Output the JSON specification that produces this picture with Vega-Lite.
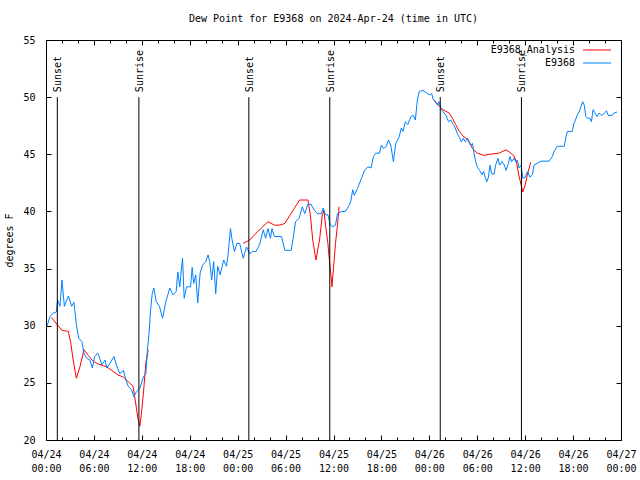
{
  "$schema": "https://vega.github.io/schema/vega-lite/v6.json",
  "width": 575,
  "height": 400,
  "autosize": {"type": "none"},
  "padding": {"left": 46, "top": 40, "right": 19, "bottom": 40},
  "background": "white",
  "title": {"text": "Dew Point for E9368 on 2024-Apr-24 (time in UTC)", "font": "DejaVu Sans Mono", "fontSize": 10, "fontWeight": "normal", "offset": 11, "anchor": "middle", "frame": "group", "color": "black"},
  "config": {
    "view": {"stroke": "black", "strokeWidth": 1},
    "font": "DejaVu Sans Mono",
    "axis": {"grid": false, "domain": false, "tickColor": "black", "labelColor": "black", "labelFont": "DejaVu Sans Mono", "labelFontSize": 10, "titleFont": "DejaVu Sans Mono", "titleFontSize": 10, "titleFontWeight": "normal", "titleColor": "black"}
  },
  "datasets": {
    "station": [
      {"t": "2024-04-24T00:09:00Z", "v": 30.0}, {"t": "2024-04-24T00:30:00Z", "v": 30.8}, {"t": "2024-04-24T00:54:00Z", "v": 31.1}, {"t": "2024-04-24T01:18:00Z", "v": 31.2},
      {"t": "2024-04-24T01:27:00Z", "v": 32.25}, {"t": "2024-04-24T01:45:00Z", "v": 31.7}, {"t": "2024-04-24T02:00:00Z", "v": 34.0}, {"t": "2024-04-24T02:18:00Z", "v": 31.7},
      {"t": "2024-04-24T02:48:00Z", "v": 32.6}, {"t": "2024-04-24T03:12:00Z", "v": 31.7}, {"t": "2024-04-24T03:30:00Z", "v": 32.05}, {"t": "2024-04-24T03:48:00Z", "v": 30.1},
      {"t": "2024-04-24T04:06:00Z", "v": 28.9}, {"t": "2024-04-24T04:30:00Z", "v": 28.6}, {"t": "2024-04-24T04:45:00Z", "v": 27.6}, {"t": "2024-04-24T05:06:00Z", "v": 27.15},
      {"t": "2024-04-24T05:30:00Z", "v": 27.0}, {"t": "2024-04-24T05:48:00Z", "v": 26.3}, {"t": "2024-04-24T06:06:00Z", "v": 27.3}, {"t": "2024-04-24T06:30:00Z", "v": 27.6},
      {"t": "2024-04-24T07:00:00Z", "v": 26.6}, {"t": "2024-04-24T07:24:00Z", "v": 27.0}, {"t": "2024-04-24T07:36:00Z", "v": 26.3}, {"t": "2024-04-24T08:00:00Z", "v": 26.7},
      {"t": "2024-04-24T08:30:00Z", "v": 27.3}, {"t": "2024-04-24T08:48:00Z", "v": 26.6}, {"t": "2024-04-24T09:15:00Z", "v": 25.8}, {"t": "2024-04-24T09:42:00Z", "v": 26.1},
      {"t": "2024-04-24T10:00:00Z", "v": 25.25}, {"t": "2024-04-24T10:18:00Z", "v": 24.7}, {"t": "2024-04-24T10:42:00Z", "v": 24.4}, {"t": "2024-04-24T11:00:00Z", "v": 23.8},
      {"t": "2024-04-24T11:18:00Z", "v": 24.2}, {"t": "2024-04-24T11:45:00Z", "v": 24.5}, {"t": "2024-04-24T12:12:00Z", "v": 25.55}, {"t": "2024-04-24T12:30:00Z", "v": 25.8},
      {"t": "2024-04-24T12:42:00Z", "v": 27.9}, {"t": "2024-04-24T12:54:00Z", "v": 29.3}, {"t": "2024-04-24T13:06:00Z", "v": 31.4}, {"t": "2024-04-24T13:18:00Z", "v": 32.8},
      {"t": "2024-04-24T13:30:00Z", "v": 33.3}, {"t": "2024-04-24T13:48:00Z", "v": 32.1}, {"t": "2024-04-24T14:12:00Z", "v": 31.7}, {"t": "2024-04-24T14:36:00Z", "v": 30.65},
      {"t": "2024-04-24T15:00:00Z", "v": 32.1}, {"t": "2024-04-24T15:30:00Z", "v": 33.3}, {"t": "2024-04-24T15:54:00Z", "v": 32.7}, {"t": "2024-04-24T16:18:00Z", "v": 33.0},
      {"t": "2024-04-24T16:30:00Z", "v": 34.7}, {"t": "2024-04-24T16:45:00Z", "v": 33.4}, {"t": "2024-04-24T17:00:00Z", "v": 35.3}, {"t": "2024-04-24T17:06:00Z", "v": 35.9},
      {"t": "2024-04-24T17:18:00Z", "v": 32.4}, {"t": "2024-04-24T17:36:00Z", "v": 33.4}, {"t": "2024-04-24T18:06:00Z", "v": 33.4}, {"t": "2024-04-24T18:18:00Z", "v": 35.1},
      {"t": "2024-04-24T18:30:00Z", "v": 33.7}, {"t": "2024-04-24T18:45:00Z", "v": 34.45}, {"t": "2024-04-24T19:00:00Z", "v": 32.0}, {"t": "2024-04-24T19:18:00Z", "v": 34.6},
      {"t": "2024-04-24T19:36:00Z", "v": 35.3}, {"t": "2024-04-24T20:00:00Z", "v": 35.6}, {"t": "2024-04-24T20:18:00Z", "v": 36.2}, {"t": "2024-04-24T20:30:00Z", "v": 35.6},
      {"t": "2024-04-24T20:45:00Z", "v": 34.0}, {"t": "2024-04-24T21:00:00Z", "v": 35.6}, {"t": "2024-04-24T21:15:00Z", "v": 32.8}, {"t": "2024-04-24T21:30:00Z", "v": 35.2},
      {"t": "2024-04-24T21:48:00Z", "v": 34.45}, {"t": "2024-04-24T22:15:00Z", "v": 35.75}, {"t": "2024-04-24T22:36:00Z", "v": 35.2}, {"t": "2024-04-24T22:48:00Z", "v": 36.2},
      {"t": "2024-04-24T23:06:00Z", "v": 38.5}, {"t": "2024-04-24T23:18:00Z", "v": 37.5}, {"t": "2024-04-24T23:36:00Z", "v": 36.5}, {"t": "2024-04-24T23:54:00Z", "v": 37.2},
      {"t": "2024-04-25T00:15:00Z", "v": 37.2}, {"t": "2024-04-25T00:42:00Z", "v": 35.9}, {"t": "2024-04-25T01:06:00Z", "v": 36.9}, {"t": "2024-04-25T01:30:00Z", "v": 36.3},
      {"t": "2024-04-25T01:54:00Z", "v": 36.5}, {"t": "2024-04-25T02:18:00Z", "v": 36.5}, {"t": "2024-04-25T02:45:00Z", "v": 37.1}, {"t": "2024-04-25T03:12:00Z", "v": 38.4},
      {"t": "2024-04-25T03:30:00Z", "v": 37.65}, {"t": "2024-04-25T03:48:00Z", "v": 38.5}, {"t": "2024-04-25T04:06:00Z", "v": 37.65}, {"t": "2024-04-25T04:18:00Z", "v": 38.5},
      {"t": "2024-04-25T04:36:00Z", "v": 37.8}, {"t": "2024-04-25T05:30:00Z", "v": 37.8}, {"t": "2024-04-25T05:54:00Z", "v": 36.6}, {"t": "2024-04-25T06:42:00Z", "v": 36.6},
      {"t": "2024-04-25T07:00:00Z", "v": 37.9}, {"t": "2024-04-25T07:15:00Z", "v": 39.1}, {"t": "2024-04-25T07:42:00Z", "v": 39.4}, {"t": "2024-04-25T08:06:00Z", "v": 40.4},
      {"t": "2024-04-25T08:24:00Z", "v": 39.8}, {"t": "2024-04-25T08:48:00Z", "v": 40.65}, {"t": "2024-04-25T09:12:00Z", "v": 40.6}, {"t": "2024-04-25T09:36:00Z", "v": 40.1},
      {"t": "2024-04-25T10:00:00Z", "v": 39.8}, {"t": "2024-04-25T10:30:00Z", "v": 39.8}, {"t": "2024-04-25T10:42:00Z", "v": 40.3}, {"t": "2024-04-25T11:00:00Z", "v": 39.7},
      {"t": "2024-04-25T11:18:00Z", "v": 39.7}, {"t": "2024-04-25T11:36:00Z", "v": 38.8}, {"t": "2024-04-25T11:54:00Z", "v": 38.65}, {"t": "2024-04-25T12:15:00Z", "v": 38.8},
      {"t": "2024-04-25T12:30:00Z", "v": 39.8}, {"t": "2024-04-25T13:00:00Z", "v": 40.0}, {"t": "2024-04-25T13:30:00Z", "v": 40.0}, {"t": "2024-04-25T14:00:00Z", "v": 40.6},
      {"t": "2024-04-25T14:12:00Z", "v": 41.0}, {"t": "2024-04-25T14:24:00Z", "v": 41.9}, {"t": "2024-04-25T14:36:00Z", "v": 41.4}, {"t": "2024-04-25T15:00:00Z", "v": 42.0},
      {"t": "2024-04-25T15:30:00Z", "v": 42.9}, {"t": "2024-04-25T15:54:00Z", "v": 43.6}, {"t": "2024-04-25T16:18:00Z", "v": 43.9}, {"t": "2024-04-25T16:42:00Z", "v": 43.8},
      {"t": "2024-04-25T17:00:00Z", "v": 44.8}, {"t": "2024-04-25T17:18:00Z", "v": 45.1}, {"t": "2024-04-25T17:45:00Z", "v": 45.1}, {"t": "2024-04-25T18:00:00Z", "v": 45.8},
      {"t": "2024-04-25T18:15:00Z", "v": 45.5}, {"t": "2024-04-25T18:36:00Z", "v": 45.7}, {"t": "2024-04-25T18:54:00Z", "v": 46.25}, {"t": "2024-04-25T19:12:00Z", "v": 45.7},
      {"t": "2024-04-25T19:30:00Z", "v": 44.35}, {"t": "2024-04-25T19:48:00Z", "v": 45.95}, {"t": "2024-04-25T20:12:00Z", "v": 46.5}, {"t": "2024-04-25T20:30:00Z", "v": 47.3},
      {"t": "2024-04-25T20:42:00Z", "v": 47.0}, {"t": "2024-04-25T21:00:00Z", "v": 47.85}, {"t": "2024-04-25T21:18:00Z", "v": 47.6}, {"t": "2024-04-25T21:42:00Z", "v": 48.3},
      {"t": "2024-04-25T22:00:00Z", "v": 48.4}, {"t": "2024-04-25T22:15:00Z", "v": 48.0}, {"t": "2024-04-25T22:30:00Z", "v": 49.75}, {"t": "2024-04-25T22:45:00Z", "v": 50.5},
      {"t": "2024-04-25T23:12:00Z", "v": 50.6}, {"t": "2024-04-25T23:36:00Z", "v": 50.4}, {"t": "2024-04-26T00:00:00Z", "v": 50.2}, {"t": "2024-04-26T00:18:00Z", "v": 50.3},
      {"t": "2024-04-26T00:30:00Z", "v": 49.75}, {"t": "2024-04-26T00:45:00Z", "v": 49.6}, {"t": "2024-04-26T01:00:00Z", "v": 49.3}, {"t": "2024-04-26T01:12:00Z", "v": 49.6},
      {"t": "2024-04-26T01:30:00Z", "v": 48.9}, {"t": "2024-04-26T01:45:00Z", "v": 48.7}, {"t": "2024-04-26T02:06:00Z", "v": 48.4}, {"t": "2024-04-26T02:24:00Z", "v": 47.85},
      {"t": "2024-04-26T02:42:00Z", "v": 48.0}, {"t": "2024-04-26T03:00:00Z", "v": 47.6}, {"t": "2024-04-26T03:15:00Z", "v": 47.3}, {"t": "2024-04-26T03:30:00Z", "v": 46.8},
      {"t": "2024-04-26T03:45:00Z", "v": 46.5}, {"t": "2024-04-26T04:00:00Z", "v": 46.1}, {"t": "2024-04-26T04:15:00Z", "v": 46.4}, {"t": "2024-04-26T04:30:00Z", "v": 46.1},
      {"t": "2024-04-26T04:48:00Z", "v": 46.4}, {"t": "2024-04-26T05:00:00Z", "v": 46.1}, {"t": "2024-04-26T05:12:00Z", "v": 45.8}, {"t": "2024-04-26T05:24:00Z", "v": 45.95},
      {"t": "2024-04-26T05:36:00Z", "v": 45.1}, {"t": "2024-04-26T05:48:00Z", "v": 44.35}, {"t": "2024-04-26T06:00:00Z", "v": 43.9}, {"t": "2024-04-26T06:18:00Z", "v": 43.6},
      {"t": "2024-04-26T06:36:00Z", "v": 43.2}, {"t": "2024-04-26T06:48:00Z", "v": 43.5}, {"t": "2024-04-26T07:00:00Z", "v": 43.0}, {"t": "2024-04-26T07:12:00Z", "v": 42.6},
      {"t": "2024-04-26T07:24:00Z", "v": 43.0}, {"t": "2024-04-26T07:36:00Z", "v": 44.05}, {"t": "2024-04-26T07:48:00Z", "v": 43.3}, {"t": "2024-04-26T08:06:00Z", "v": 43.25},
      {"t": "2024-04-26T08:18:00Z", "v": 44.05}, {"t": "2024-04-26T08:36:00Z", "v": 44.65}, {"t": "2024-04-26T08:48:00Z", "v": 44.05}, {"t": "2024-04-26T09:06:00Z", "v": 44.35},
      {"t": "2024-04-26T09:24:00Z", "v": 44.05}, {"t": "2024-04-26T09:36:00Z", "v": 43.6}, {"t": "2024-04-26T09:54:00Z", "v": 44.2}, {"t": "2024-04-26T10:06:00Z", "v": 44.8},
      {"t": "2024-04-26T10:18:00Z", "v": 44.35}, {"t": "2024-04-26T10:36:00Z", "v": 44.65}, {"t": "2024-04-26T10:48:00Z", "v": 44.35}, {"t": "2024-04-26T11:00:00Z", "v": 44.5},
      {"t": "2024-04-26T11:15:00Z", "v": 43.8}, {"t": "2024-04-26T11:30:00Z", "v": 44.05}, {"t": "2024-04-26T11:42:00Z", "v": 42.9}, {"t": "2024-04-26T12:00:00Z", "v": 43.0},
      {"t": "2024-04-26T12:18:00Z", "v": 43.5}, {"t": "2024-04-26T12:36:00Z", "v": 43.0}, {"t": "2024-04-26T12:54:00Z", "v": 43.2}, {"t": "2024-04-26T13:06:00Z", "v": 44.05},
      {"t": "2024-04-26T13:30:00Z", "v": 44.2}, {"t": "2024-04-26T14:00:00Z", "v": 44.4}, {"t": "2024-04-26T15:00:00Z", "v": 44.4}, {"t": "2024-04-26T15:24:00Z", "v": 44.8},
      {"t": "2024-04-26T15:36:00Z", "v": 45.2}, {"t": "2024-04-26T16:00:00Z", "v": 45.7}, {"t": "2024-04-26T16:54:00Z", "v": 45.7}, {"t": "2024-04-26T17:06:00Z", "v": 46.5},
      {"t": "2024-04-26T17:18:00Z", "v": 47.0}, {"t": "2024-04-26T17:54:00Z", "v": 47.0}, {"t": "2024-04-26T18:06:00Z", "v": 47.7}, {"t": "2024-04-26T18:18:00Z", "v": 48.0},
      {"t": "2024-04-26T18:30:00Z", "v": 48.4}, {"t": "2024-04-26T18:45:00Z", "v": 48.7}, {"t": "2024-04-26T19:00:00Z", "v": 49.2}, {"t": "2024-04-26T19:12:00Z", "v": 49.6},
      {"t": "2024-04-26T19:24:00Z", "v": 49.3}, {"t": "2024-04-26T19:36:00Z", "v": 48.3}, {"t": "2024-04-26T19:48:00Z", "v": 48.15}, {"t": "2024-04-26T20:06:00Z", "v": 48.15},
      {"t": "2024-04-26T20:18:00Z", "v": 47.85}, {"t": "2024-04-26T20:30:00Z", "v": 48.9}, {"t": "2024-04-26T20:45:00Z", "v": 48.6}, {"t": "2024-04-26T21:00:00Z", "v": 48.3},
      {"t": "2024-04-26T21:15:00Z", "v": 48.6}, {"t": "2024-04-26T21:36:00Z", "v": 48.4}, {"t": "2024-04-26T21:54:00Z", "v": 48.6}, {"t": "2024-04-26T22:12:00Z", "v": 48.8},
      {"t": "2024-04-26T22:24:00Z", "v": 48.4}, {"t": "2024-04-26T22:54:00Z", "v": 48.4}, {"t": "2024-04-26T23:06:00Z", "v": 48.6}, {"t": "2024-04-26T23:30:00Z", "v": 48.7}
    ],
    "analysis": [
      {"t": "2024-04-24T00:42:00Z", "v": 30.7, "seg": 1}, {"t": "2024-04-24T01:24:00Z", "v": 30.1, "seg": 1}, {"t": "2024-04-24T02:00:00Z", "v": 29.6, "seg": 1},
      {"t": "2024-04-24T02:48:00Z", "v": 29.5, "seg": 1}, {"t": "2024-04-24T03:06:00Z", "v": 28.5, "seg": 1}, {"t": "2024-04-24T03:24:00Z", "v": 27.0, "seg": 1},
      {"t": "2024-04-24T03:48:00Z", "v": 25.4, "seg": 1}, {"t": "2024-04-24T04:15:00Z", "v": 26.4, "seg": 1}, {"t": "2024-04-24T04:45:00Z", "v": 27.9, "seg": 1},
      {"t": "2024-04-24T05:18:00Z", "v": 27.4, "seg": 1}, {"t": "2024-04-24T05:54:00Z", "v": 26.9, "seg": 1}, {"t": "2024-04-24T06:30:00Z", "v": 26.65, "seg": 1},
      {"t": "2024-04-24T07:12:00Z", "v": 26.5, "seg": 1}, {"t": "2024-04-24T07:36:00Z", "v": 26.4, "seg": 1}, {"t": "2024-04-24T08:12:00Z", "v": 26.1, "seg": 1},
      {"t": "2024-04-24T09:00:00Z", "v": 25.7, "seg": 1}, {"t": "2024-04-24T09:42:00Z", "v": 25.5, "seg": 1}, {"t": "2024-04-24T10:18:00Z", "v": 25.1, "seg": 1},
      {"t": "2024-04-24T10:54:00Z", "v": 24.7, "seg": 1}, {"t": "2024-04-24T11:18:00Z", "v": 22.9, "seg": 1}, {"t": "2024-04-24T11:30:00Z", "v": 21.9, "seg": 1},
      {"t": "2024-04-24T11:45:00Z", "v": 21.2, "seg": 1}, {"t": "2024-04-24T11:57:00Z", "v": 22.3, "seg": 1}, {"t": "2024-04-24T12:12:00Z", "v": 24.1, "seg": 1},
      {"t": "2024-04-24T12:30:00Z", "v": 26.7, "seg": 1}, {"t": "2024-04-24T12:48:00Z", "v": 27.9, "seg": 1},
      {"t": "2024-04-25T00:42:00Z", "v": 37.2, "seg": 2}, {"t": "2024-04-25T01:30:00Z", "v": 37.5, "seg": 2}, {"t": "2024-04-25T02:18:00Z", "v": 38.1, "seg": 2},
      {"t": "2024-04-25T03:48:00Z", "v": 39.1, "seg": 2}, {"t": "2024-04-25T04:36:00Z", "v": 38.8, "seg": 2}, {"t": "2024-04-25T05:15:00Z", "v": 38.8, "seg": 2},
      {"t": "2024-04-25T05:54:00Z", "v": 38.95, "seg": 2}, {"t": "2024-04-25T07:45:00Z", "v": 41.0, "seg": 2}, {"t": "2024-04-25T08:48:00Z", "v": 41.0, "seg": 2},
      {"t": "2024-04-25T09:06:00Z", "v": 39.7, "seg": 2}, {"t": "2024-04-25T09:24:00Z", "v": 37.5, "seg": 2}, {"t": "2024-04-25T09:48:00Z", "v": 35.75, "seg": 2},
      {"t": "2024-04-25T10:15:00Z", "v": 37.5, "seg": 2}, {"t": "2024-04-25T10:36:00Z", "v": 39.7, "seg": 2}, {"t": "2024-04-25T10:48:00Z", "v": 40.1, "seg": 2},
      {"t": "2024-04-25T11:00:00Z", "v": 38.8, "seg": 2}, {"t": "2024-04-25T11:18:00Z", "v": 37.2, "seg": 2}, {"t": "2024-04-25T11:30:00Z", "v": 35.6, "seg": 2},
      {"t": "2024-04-25T11:42:00Z", "v": 34.3, "seg": 2}, {"t": "2024-04-25T11:48:00Z", "v": 33.4, "seg": 2}, {"t": "2024-04-25T12:00:00Z", "v": 35.0, "seg": 2},
      {"t": "2024-04-25T12:15:00Z", "v": 37.2, "seg": 2}, {"t": "2024-04-25T12:30:00Z", "v": 38.8, "seg": 2}, {"t": "2024-04-25T12:42:00Z", "v": 40.4, "seg": 2},
      {"t": "2024-04-26T00:36:00Z", "v": 49.75, "seg": 3}, {"t": "2024-04-26T01:15:00Z", "v": 49.2, "seg": 3}, {"t": "2024-04-26T01:42:00Z", "v": 48.9, "seg": 3},
      {"t": "2024-04-26T02:30:00Z", "v": 48.6, "seg": 3}, {"t": "2024-04-26T02:54:00Z", "v": 48.15, "seg": 3}, {"t": "2024-04-26T03:18:00Z", "v": 47.6, "seg": 3},
      {"t": "2024-04-26T03:45:00Z", "v": 47.0, "seg": 3}, {"t": "2024-04-26T04:12:00Z", "v": 46.6, "seg": 3}, {"t": "2024-04-26T04:48:00Z", "v": 46.3, "seg": 3},
      {"t": "2024-04-26T05:24:00Z", "v": 45.5, "seg": 3}, {"t": "2024-04-26T06:00:00Z", "v": 45.1, "seg": 3}, {"t": "2024-04-26T06:54:00Z", "v": 44.9, "seg": 3},
      {"t": "2024-04-26T07:30:00Z", "v": 45.0, "seg": 3}, {"t": "2024-04-26T08:45:00Z", "v": 45.1, "seg": 3}, {"t": "2024-04-26T09:36:00Z", "v": 45.4, "seg": 3},
      {"t": "2024-04-26T10:12:00Z", "v": 45.1, "seg": 3}, {"t": "2024-04-26T10:36:00Z", "v": 44.85, "seg": 3}, {"t": "2024-04-26T10:54:00Z", "v": 44.35, "seg": 3},
      {"t": "2024-04-26T11:12:00Z", "v": 43.2, "seg": 3}, {"t": "2024-04-26T11:30:00Z", "v": 42.3, "seg": 3}, {"t": "2024-04-26T11:42:00Z", "v": 41.7, "seg": 3},
      {"t": "2024-04-26T12:00:00Z", "v": 42.3, "seg": 3}, {"t": "2024-04-26T12:18:00Z", "v": 43.3, "seg": 3}, {"t": "2024-04-26T12:42:00Z", "v": 44.3, "seg": 3}
    ],
    "events": [
      {"t": "2024-04-24T01:25:00Z", "label": "Sunset"}, {"t": "2024-04-24T11:38:00Z", "label": "Sunrise"},
      {"t": "2024-04-25T01:24:00Z", "label": "Sunset"}, {"t": "2024-04-25T11:32:00Z", "label": "Sunrise"},
      {"t": "2024-04-26T01:22:00Z", "label": "Sunset"}, {"t": "2024-04-26T11:32:00Z", "label": "Sunrise"}
    ]
  },
  "layer": [
    {
      "data": {"name": "analysis"},
      "mark": {"type": "line", "strokeWidth": 1},
      "encoding": {
        "x": {"field": "t", "type": "temporal",
          "scale": {"type": "utc", "domain": [1713916800000, 1714176000000], "nice": false},
          "axis": {"orient": "bottom", "title": null, "values": [1713916800000, 1713938400000, 1713960000000, 1713981600000, 1714003200000, 1714024800000, 1714046400000, 1714068000000, 1714089600000, 1714111200000, 1714132800000, 1714154400000, 1714176000000],
            "tickSize": -5, "labelExpr": "[utcFormat(datum.value, '%m/%d'), utcFormat(datum.value, '%H:%M')]",
            "labelPadding": 14, "labelLineHeight": 14, "labelFlush": false, "labelOverlap": false}},
        "y": {"field": "v", "type": "quantitative",
          "scale": {"domain": [20, 55], "nice": false, "zero": false},
          "axis": {"orient": "left", "title": "degrees F", "values": [20, 25, 30, 35, 40, 45, 50, 55], "tickSize": -5, "labelPadding": 16, "titlePadding": 8}},
        "color": {"datum": "E9368_Analysis",
          "scale": {"domain": ["E9368_Analysis", "E9368"], "range": ["#ff0000", "#0080ff"]},
          "legend": {"orient": "none", "legendX": 546, "legendY": 5, "title": null, "symbolType": "M-7,0H7", "symbolSize": 16, "symbolStrokeWidth": 1,
            "labelFont": "DejaVu Sans Mono", "labelFontSize": 10, "labelColor": "black", "labelAlign": "right", "labelOffset": -27, "rowPadding": 3, "padding": 0}},
        "detail": {"field": "seg", "type": "nominal"}
      }
    },
    {
      "data": {"name": "station"},
      "mark": {"type": "line", "strokeWidth": 1},
      "encoding": {
        "x": {"field": "t", "type": "temporal",
          "axis": {"orient": "top", "title": null, "labels": false, "tickSize": -5,
            "values": [1713916800000, 1713938400000, 1713960000000, 1713981600000, 1714003200000, 1714024800000, 1714046400000, 1714068000000, 1714089600000, 1714111200000, 1714132800000, 1714154400000, 1714176000000]}},
        "y": {"field": "v", "type": "quantitative",
          "axis": {"orient": "right", "title": null, "labels": false, "tickSize": -5, "values": [20, 25, 30, 35, 40, 45, 50, 55]}},
        "color": {"datum": "E9368"}
      }
    },
    {
      "data": {"name": "events"},
      "mark": {"type": "rule", "color": "black", "strokeWidth": 1},
      "encoding": {
        "x": {"field": "t", "type": "temporal",
          "axis": {"orient": "bottom", "title": null, "labels": false, "tickSize": -3,
            "values": [1713916800000, 1713924000000, 1713931200000, 1713938400000, 1713945600000, 1713952800000, 1713960000000, 1713967200000, 1713974400000, 1713981600000, 1713988800000, 1713996000000, 1714003200000, 1714010400000, 1714017600000, 1714024800000, 1714032000000, 1714039200000, 1714046400000, 1714053600000, 1714060800000, 1714068000000, 1714075200000, 1714082400000, 1714089600000, 1714096800000, 1714104000000, 1714111200000, 1714118400000, 1714125600000, 1714132800000, 1714140000000, 1714147200000, 1714154400000, 1714161600000, 1714168800000, 1714176000000]}},
        "y": {"datum": 20, "type": "quantitative", "axis": null},
        "y2": {"datum": 50}
      }
    },
    {
      "data": {"name": "events"},
      "mark": {"type": "text", "angle": 270, "align": "left", "baseline": "middle", "dx": 5, "dy": 1, "font": "DejaVu Sans Mono", "fontSize": 10, "color": "black"},
      "encoding": {
        "x": {"field": "t", "type": "temporal",
          "axis": {"orient": "top", "title": null, "labels": false, "tickSize": -3,
            "values": [1713916800000, 1713924000000, 1713931200000, 1713938400000, 1713945600000, 1713952800000, 1713960000000, 1713967200000, 1713974400000, 1713981600000, 1713988800000, 1713996000000, 1714003200000, 1714010400000, 1714017600000, 1714024800000, 1714032000000, 1714039200000, 1714046400000, 1714053600000, 1714060800000, 1714068000000, 1714075200000, 1714082400000, 1714089600000, 1714096800000, 1714104000000, 1714111200000, 1714118400000, 1714125600000, 1714132800000, 1714140000000, 1714147200000, 1714154400000, 1714161600000, 1714168800000, 1714176000000]}},
        "y": {"datum": 50, "type": "quantitative", "axis": null},
        "text": {"field": "label", "type": "nominal"}
      }
    }
  ],
  "resolve": {"axis": {"x": "independent", "y": "independent"}}
}
